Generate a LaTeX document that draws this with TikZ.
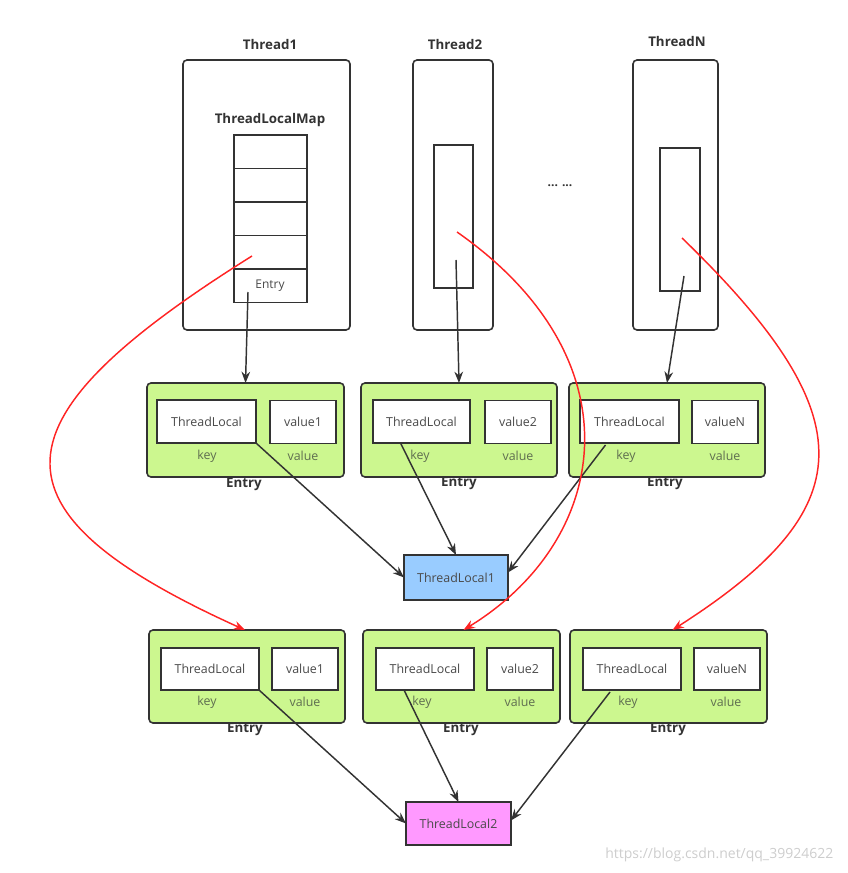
\documentclass[tikz,border=0pt]{standalone}
\usepackage{fontspec}
\setmainfont{Open Sans}
\usetikzlibrary{calc,arrows.meta}
\definecolor{edge}{HTML}{333333}
\definecolor{entryfill}{RGB}{204,247,143}
\definecolor{tlblue}{HTML}{99CCFF}
\definecolor{tlpink}{HTML}{FF99FF}
\definecolor{redline}{HTML}{FF2424}
\definecolor{txt}{HTML}{4A4A4A}
\definecolor{keytxt}{RGB}{95,110,80}
\definecolor{wm}{RGB}{205,205,205}
\tikzset{
  sz/.style 2 args={minimum width=#1*0.75pt, minimum height=#2*0.75pt, inner sep=0pt, outer sep=0pt},
  threadbox/.style={draw=edge, line width=1.2pt, rounded corners=3pt, fill=white},
  plainbox/.style={draw=edge, line width=1.2pt, fill=white, font=\fontsize{9}{10}\selectfont, text=txt},
  entrybox/.style={draw=edge, line width=1.2pt, rounded corners=3pt, fill=entryfill},
  title/.style={font=\fontsize{10}{12}\selectfont\bfseries, text=edge},
  small/.style={font=\fontsize{9.3}{10}\selectfont, text=keytxt},
  tlbox/.style={draw=edge, line width=1.2pt, font=\fontsize{9.3}{10}\selectfont, text=txt, inner sep=0pt, outer sep=0pt},
  blk/.style={draw=edge, line width=1.1pt, -{Stealth[length=8.5pt,width=6.5pt]}},
  redarr/.style={draw=redline, line width=1.1pt, -{Stealth[length=8.5pt,width=6.5pt]}},
}
\begin{document}
\begin{tikzpicture}[x=0.75pt,y=-0.75pt]
\useasboundingbox (0,0) rectangle (847,873);
% Threads
\node[threadbox, sz={167}{270}] (t1) at (266.5,195) {};
\node[title] (t1l) at (270,45) {Thread1};
\node[title] (tlm) at (270,120) {ThreadLocalMap};
\node[plainbox, sz={73}{33.5}] (c1) at (270.5,151.75) {};
\node[plainbox, sz={73}{33.5}] (c2) at (270.5,185.25) {};
\node[plainbox, sz={73}{33.5}] (c3) at (270.5,218.75) {};
\node[plainbox, sz={73}{33.5}] (c4) at (270.5,252.25) {};
\node[plainbox, sz={73}{33.5}] (c5) at (270.5,285.75) {};
\node[font=\fontsize{9}{10}\selectfont, text=txt] (c5t) at (270,286) {Entry};

\node[threadbox, sz={80}{270}] (t2) at (453,195) {};
\node[title] (t2l) at (455,45) {Thread2};
\node[plainbox, sz={39}{143}] (t2in) at (453.5,216.5) {};

\node[threadbox, sz={85}{270}] (tn) at (675.5,195) {};
\node[title] (tnl) at (677,42) {ThreadN};
\node[plainbox, sz={40}{143}] (tnin) at (680,219.5) {};

\node[font=\fontsize{9}{10}\selectfont, text=edge] (dots) at (560,186) {\textbf{... ...}};

% Row 1 entries
\node[entrybox, sz={197}{94}] (e11) at (245.5,430) {};
\node[tlbox, fill=white, sz={99}{43}] (tl11) at (206.5,421.5) {ThreadLocal};
\node[tlbox, fill=white, sz={66}{43}] (v11) at (303,422) {value1};
\node[small] (k11) at (207,456) {key};
\node[small] (w11) at (303,456) {value};
\node[title] (n11) at (244,484) {Entry};

\node[entrybox, sz={196}{94}] (e12) at (459,430) {};
\node[tlbox, fill=white, sz={97}{43}] (tl12) at (421.5,421.5) {ThreadLocal};
\node[tlbox, fill=white, sz={66}{43}] (v12) at (518,422) {value2};
\node[small] (k12) at (420,456) {key};
\node[small] (w12) at (518,456) {value};
\node[title] (n12) at (459,483) {Entry};

\node[entrybox, sz={196}{94}] (e13) at (667,430) {};
\node[tlbox, fill=white, sz={99}{43}] (tl13) at (629.5,421.5) {ThreadLocal};
\node[tlbox, fill=white, sz={66}{43}] (v13) at (725,422) {valueN};
\node[small] (k13) at (626,456) {key};
\node[small] (w13) at (725,456) {value};
\node[title] (n13) at (665,483) {Entry};

\node[tlbox, fill=tlblue, sz={104}{45}] (tla) at (456,577.5) {ThreadLocal1};

% Row 2 entries
\node[entrybox, sz={196}{93}] (e21) at (247,676.5) {};
\node[tlbox, fill=white, sz={98}{42}] (tl21) at (210,669) {ThreadLocal};
\node[tlbox, fill=white, sz={66}{42}] (v21) at (305,669) {value1};
\node[small] (k21) at (207,702) {key};
\node[small] (w21) at (305,702) {value};
\node[title] (n21) at (245,729) {Entry};

\node[entrybox, sz={197}{93}] (e22) at (461.5,676.5) {};
\node[tlbox, fill=white, sz={98}{42}] (tl22) at (425,669) {ThreadLocal};
\node[tlbox, fill=white, sz={66}{42}] (v22) at (520,669) {value2};
\node[small] (k22) at (422,702) {key};
\node[small] (w22) at (520,702) {value};
\node[title] (n22) at (461,729) {Entry};

\node[entrybox, sz={197}{93}] (e23) at (668.5,676.5) {};
\node[tlbox, fill=white, sz={98}{42}] (tl23) at (632,669) {ThreadLocal};
\node[tlbox, fill=white, sz={66}{42}] (v23) at (727,669) {valueN};
\node[small] (k23) at (628,702) {key};
\node[small] (w23) at (726,702) {value};
\node[title] (n23) at (668,729) {Entry};

\node[tlbox, fill=tlpink, sz={105}{43}] (tlb) at (458.5,823.5) {ThreadLocal2};

% start points
\coordinate (s1) at (248,292);
\coordinate (s2) at (456,260);
\coordinate (s3) at (684,276);
\coordinate (r1) at (252,256);
\coordinate (r2) at (457,232);
\coordinate (r3) at (682,238);

% black arrows
\draw[blk] (s1) -- (e11.north);
\draw[blk] (s2) -- (e12.north);
\draw[blk] (s3) -- (e13.north);
\draw[blk] (tl11.south east) -- (tla.west);
\draw[blk] ($(tl12.south)+(-21,0)$) -- (tla.north);
\draw[blk] ($(tl13.south)+(-24,2)$) -- ($(tla.east)+(0,-5)$);
\draw[blk] (tl21.south east) -- (tlb.west);
\draw[blk] ($(tl22.south)+(-21,0)$) -- (tlb.north);
\draw[blk] ($(tl23.south)+(-22,2)$) -- ($(tlb.east)+(0,-3)$);

% red curves
\draw[redarr] (r1) .. controls (-10,420) and (-20,510) .. ($(e21.north)+(-2,0)$);
\draw[redarr] (r2) .. controls (640,360) and (610,540) .. ($(e22.north)+(2,0)$);
\draw[redarr] (r3) .. controls (870,420) and (860,510) .. ($(e23.north)+(4,0)$);

% watermark
\node[font=\fontsize{10.5}{12}\selectfont, text=wm, anchor=east] (wmk) at (838,855) {https://blog.csdn.net/qq\_39924622};
\end{tikzpicture}
\end{document}
